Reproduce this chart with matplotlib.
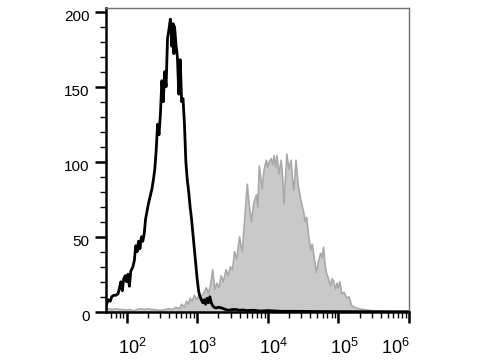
import numpy as np
import matplotlib
matplotlib.use("Agg")
import matplotlib.pyplot as plt
from matplotlib.ticker import MultipleLocator, LogLocator, FixedLocator
import matplotlib.transforms as mtransforms

plt.rcParams['font.family'] = ['Liberation Sans', 'DejaVu Sans']
plt.rcParams['mathtext.default'] = 'regular'

# black histogram (control), bin position as log10 of intensity
black_log = [1.71, 1.74, 1.77, 1.79, 1.82, 1.85, 1.88, 1.90, 1.92, 1.94, 1.96, 1.98,
             2.00, 2.02, 2.04, 2.06, 2.09, 2.11, 2.13, 2.15, 2.17, 2.19, 2.21, 2.23,
             2.25, 2.27, 2.29, 2.31, 2.33, 2.36, 2.38, 2.40, 2.42, 2.44, 2.46, 2.48,
             2.50, 2.52, 2.54, 2.56, 2.58, 2.60, 2.62, 2.63, 2.64, 2.66, 2.67, 2.68,
             2.70, 2.72, 2.74, 2.76, 2.78, 2.80, 2.82, 2.84, 2.86, 2.88, 2.90, 2.92,
             2.94, 2.96, 2.98, 3.00, 3.02, 3.04, 3.06, 3.08, 3.10, 3.12, 3.14, 3.16,
             3.18, 3.20, 3.22, 3.24, 3.27, 3.30, 3.35, 3.40, 3.45, 3.50, 3.55, 3.60,
             3.65, 3.70, 3.80, 3.90, 4.00, 4.10, 4.20, 4.40, 4.60, 5.00, 6.00]
black_counts = [4, 8, 7, 10, 11, 11, 12, 16, 20, 14, 22, 24,
                20, 25, 17, 27, 30, 34, 44, 40, 47, 42, 50, 47,
                52, 62, 67, 72, 76, 82, 88, 95, 108, 125, 118, 132,
                154, 140, 160, 150, 182, 188, 195, 190, 177, 192, 172, 190,
                178, 170, 145, 168, 140, 142, 125, 100, 88, 80, 70, 62,
                52, 42, 32, 22, 14, 10, 8, 6, 8, 5, 9, 6,
                10, 6, 4, 3, 2.5, 3, 2.5, 1.5, 1, 1.5, 1.5, 1,
                1.2, 0.8, 1, 0.5, 0.8, 0.5, 0.3, 0.3, 0.2, 0.1, 0]

# grey filled histogram (stained sample)
grey_log = [1.71, 1.75, 1.80, 1.85, 1.90, 1.95, 2.00, 2.05, 2.10, 2.15, 2.20, 2.25,
            2.30, 2.35, 2.40, 2.45, 2.50, 2.55, 2.60, 2.65, 2.70, 2.75, 2.78, 2.82,
            2.85, 2.88, 2.90, 2.93, 2.96, 3.00, 3.03, 3.06, 3.10, 3.13, 3.16, 3.19,
            3.22, 3.25, 3.28, 3.31, 3.34, 3.37, 3.41, 3.44, 3.47, 3.50, 3.53, 3.56,
            3.60, 3.62, 3.64, 3.67, 3.71, 3.74, 3.77, 3.80, 3.84, 3.86, 3.88, 3.90,
            3.92, 3.95, 3.98, 4.00, 4.02, 4.05, 4.07, 4.09, 4.11, 4.13, 4.16, 4.19,
            4.21, 4.23, 4.25, 4.27, 4.30, 4.33, 4.35, 4.37, 4.40, 4.43, 4.47, 4.49,
            4.51, 4.53, 4.55, 4.58, 4.61, 4.63, 4.65, 4.67, 4.69, 4.72, 4.75, 4.77,
            4.79, 4.81, 4.83, 4.86, 4.89, 4.91, 4.93, 4.96, 4.98, 5.00, 5.02, 5.05,
            5.08, 5.12, 5.15, 5.19, 5.23, 5.29, 5.35, 5.43, 5.50, 5.67, 5.80, 6.00]
grey_counts = [1.5, 2, 1.5, 2, 1.5, 1.5, 1, 1.5, 0.5, 1.5, 2, 1.5,
               2, 1.5, 1.5, 1, 1, 1.5, 2, 1.5, 3, 2, 5, 3,
               7, 5, 9, 7, 11, 8, 12, 10, 13, 16, 12, 18,
               28, 15, 19, 16, 24, 20, 28, 24, 30, 28, 40, 35,
               50, 44, 40, 60, 85, 70, 60, 72, 78, 70, 97, 90,
               82, 95, 101, 96, 100, 102, 98, 104, 96, 104, 92, 101,
               90, 72, 88, 105, 95, 101, 88, 81, 101, 85, 74, 70,
               66, 60, 63, 50, 41, 45, 39, 32, 26, 34, 39, 36,
               43, 32, 26, 22, 17, 22, 21, 15, 19, 16, 20, 12,
               13, 9, 10, 4, 3, 2, 1.5, 1, 0.5, 0.3, 0, 0]

x_black = 10 ** np.array(black_log)
x_grey = 10 ** np.array(grey_log)

fig = plt.figure(figsize=(4.8, 3.6), dpi=100)
ax = fig.add_axes([0.221, 0.134, 0.631, 0.844])

ax.fill_between(x_grey, grey_counts, 0, color='#c9c9c9', linewidth=0)
ax.plot(x_grey, grey_counts, color='#a9a9a9', linewidth=1.2)
ax.plot(x_black, black_counts, color='black', linewidth=2.0)

ax.set_xscale('log')
ax.set_xlim(10 ** 1.71, 1e6)
ax.set_ylim(0, 202.5)

ax.xaxis.set_major_locator(FixedLocator([1e2, 1e3, 1e4, 1e5, 1e6]))
ax.xaxis.set_minor_locator(LogLocator(base=10, subs=np.arange(2, 10), numticks=20))
ax.yaxis.set_major_locator(MultipleLocator(50))
ax.yaxis.set_minor_locator(MultipleLocator(10))

ax.tick_params(which='major', length=8, width=1.8, color='black')
ax.tick_params(which='minor', length=4, width=1.0, color='black')
ax.tick_params(axis='x', which='major', labelsize=13, pad=11)
ax.tick_params(axis='y', which='major', labelsize=11, pad=4)

for side in ['left', 'bottom']:
    ax.spines[side].set_linewidth(1.8)
    ax.spines[side].set_color('black')
for side in ['top', 'right']:
    ax.spines[side].set_linewidth(1.0)
    ax.spines[side].set_color('#707070')

fig.canvas.draw()
xlabels = ax.get_xticklabels()
for i, lab in enumerate(xlabels):
    dx = 4 / 72 if i < len(xlabels) - 1 else -10 / 72
    lab.set_transform(lab.get_transform() + mtransforms.ScaledTranslation(dx, 0, fig.dpi_scale_trans))
for lab in ax.get_yticklabels():
    lab.set_transform(lab.get_transform() + mtransforms.ScaledTranslation(0, -3 / 72, fig.dpi_scale_trans))

fig.savefig('out.png', dpi=100)
